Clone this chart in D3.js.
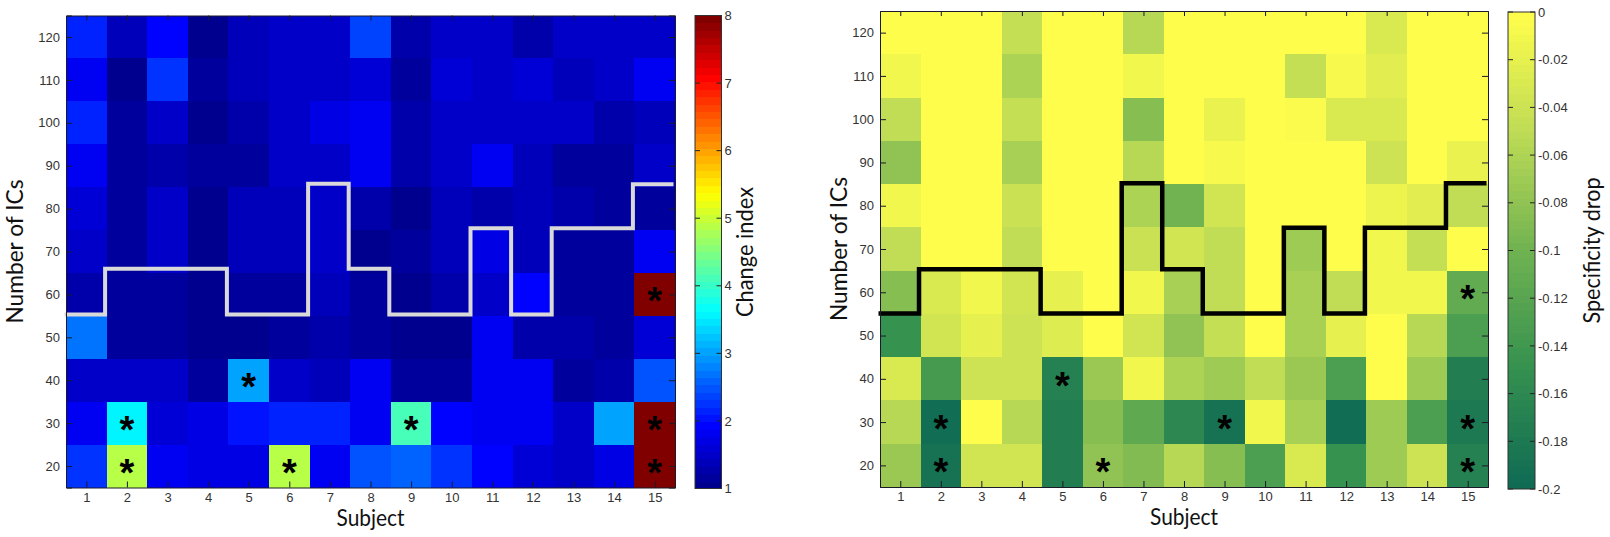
<!DOCTYPE html>
<html>
<head>
<meta charset="utf-8">
<script src="https://cdn.jsdelivr.net/npm/d3@7"></script>
<style>
  html, body { margin: 0; padding: 0; background: #fff; }
  svg { display: block; }
  .tick text { font-family: "Liberation Sans", Arial, sans-serif; font-size: 13px; fill: #333; }
  .title { font-family: Lato, "Open Sans", sans-serif; font-size: 23px; fill: #111; }
  .star { font-family: "Liberation Sans", Arial, sans-serif; font-size: 38px; font-weight: bold; fill: #000; text-anchor: middle; }
</style>
</head>
<body>
<div id="canvas"></div>
<script>
//Data
var subjects = d3.range(1, 16),
    ics = [120, 110, 100, 90, 80, 70, 60, 50, 40, 30, 20];

//rows run from 120 ICs down to 20 ICs, columns are subjects 1-15
var changeIndex = [
  [2.1, 1.4, 1.9, 1.1, 1.4, 1.45, 1.45, 2.35, 1.3, 1.45, 1.5, 1.3, 1.45, 1.45, 1.5],
  [1.85, 1.1, 2.3, 1.2, 1.4, 1.45, 1.45, 1.65, 1.15, 1.6, 1.45, 1.55, 1.35, 1.45, 1.85],
  [2.15, 1.15, 1.5, 1.05, 1.25, 1.45, 1.7, 1.85, 1.3, 1.5, 1.45, 1.5, 1.45, 1.3, 1.35],
  [1.8, 1.15, 1.3, 1.15, 1.2, 1.45, 1.5, 1.85, 1.3, 1.5, 1.85, 1.4, 1.15, 1.15, 1.5],
  [1.55, 1.15, 1.45, 1.05, 1.4, 1.4, 1.45, 1.3, 1.1, 1.4, 1.25, 1.4, 1.3, 1.2, 1.2],
  [1.45, 1.15, 1.5, 1.05, 1.35, 1.4, 1.45, 1.1, 1.15, 1.35, 1.75, 1.35, 1.15, 1.15, 1.85],
  [1.3, 1.15, 1.15, 1.05, 1.2, 1.2, 1.35, 1.15, 1.1, 1.3, 1.45, 1.9, 1.2, 1.15, 8],
  [2.7, 1.15, 1.15, 1.05, 1.1, 1.2, 1.3, 1.2, 1.1, 1.1, 1.85, 1.3, 1.25, 1.2, 1.65],
  [1.45, 1.45, 1.5, 1.15, 3.0, 1.5, 1.4, 1.85, 1.2, 1.15, 1.85, 1.85, 1.15, 1.25, 2.5],
  [1.8, 3.6, 1.65, 1.7, 2.0, 2.2, 2.2, 1.85, 4.1, 1.9, 1.85, 1.85, 1.45, 3.0, 8],
  [2.3, 4.9, 1.8, 1.75, 1.75, 4.9, 1.85, 2.5, 2.6, 2.3, 1.9, 1.6, 1.5, 1.75, 8]
];

var specificityDrop = [
  [0, 0, 0, -.045, 0, 0, -.055, 0, 0, 0, 0, 0, -.03, 0, 0],
  [-.01, 0, 0, -.06, 0, 0, -.012, 0, 0, 0, -.045, -.008, -.025, 0, 0],
  [-.05, 0, 0, -.045, 0, 0, -.085, 0, -.018, 0, -.005, -.03, -.03, 0, 0],
  [-.08, 0, 0, -.065, 0, 0, -.055, 0, -.008, 0, 0, 0, -.04, 0, -.018],
  [-.012, 0, 0, -.042, 0, 0, -.06, -.1, -.035, 0, 0, 0, -.015, -.022, -.05],
  [-.05, -.003, 0, -.05, 0, 0, -.042, -.035, -.05, 0, -.07, 0, -.012, -.045, 0],
  [-.085, -.03, -.01, -.035, -.02, -.003, -.012, -.065, -.05, 0, -.065, -.05, -.012, -.01, -.11],
  [-.15, -.035, -.02, -.04, -.028, 0, -.035, -.08, -.045, 0, -.065, -.02, 0, -.055, -.13],
  [-.03, -.135, -.04, -.04, -.17, -.075, -.012, -.06, -.07, -.05, -.075, -.13, 0, -.07, -.175],
  [-.055, -.195, 0, -.055, -.175, -.085, -.115, -.16, -.19, -.012, -.065, -.195, -.07, -.13, -.18],
  [-.075, -.19, -.035, -.035, -.175, -.08, -.09, -.055, -.085, -.13, -.03, -.15, -.07, -.04, -.17]
];

//threshold line, one level per subject
var leftThreshold = [55.3, 66, 66, 66, 55.3, 55.3, 85.8, 66, 55.3, 55.3, 75.4, 55.3, 75.4, 75.4, 85.7],
    rightThreshold = [55.1, 65.3, 65.3, 65.3, 55.1, 55.1, 85.2, 65.3, 55.1, 55.1, 74.9, 55.1, 74.9, 74.9, 85.2];

//significant cells: [subject, ICs]
var leftStars = [[2, 30], [2, 20], [5, 40], [6, 20], [9, 30], [15, 60], [15, 30], [15, 20]],
    rightStars = [[2, 30], [2, 20], [5, 40], [6, 20], [9, 30], [15, 60], [15, 30], [15, 20]];

var changeTicks = [1, 2, 3, 4, 5, 6, 7, 8],
    dropTicks = [0, -.02, -.04, -.06, -.08, -.1, -.12, -.14, -.16, -.18, -.2];

//64 level colormaps
var jet = d3.scaleLinear()
    .domain([0, .125, .375, .625, .875, 1])
    .range(['#00008f', '#0000ff', '#00ffff', '#ffff00', '#ff0000', '#800000']);
var summer = d3.scaleLinear()
    .domain([0, .25, .5, .75, 1])
    .range(['#0f6b53', '#35914f', '#70b251', '#bddb55', '#fffd4c']);

var jetColor = d3.scaleQuantize().domain([1, 8]).range(d3.quantize(jet, 64)),
    summerColor = d3.scaleQuantize().domain([-.2, 0]).range(d3.quantize(summer, 64));

var svg = d3.select('#canvas').append('svg')
    .attr('width', 1610)
    .attr('height', 537);

drawPanel({
  l: 66, r: 675, t: 15.5, b: 487.5,
  values: changeIndex, color: jetColor, threshold: leftThreshold, stars: leftStars,
  lineColor: '#d9d9d9', lineWidth: 4,
  yLabelX: 23, subjectY: 526,
  barL: 695, barR: 721.5, barT: 15.5, barB: 488.5,
  barDomain: [8, 1], barTicks: changeTicks, barFormat: d3.format('d'),
  barLabel: 'Change index', barLabelLen: 130, barLabelX: 753
});

drawPanel({
  l: 880, r: 1488, t: 11, b: 487,
  values: specificityDrop, color: summerColor, threshold: rightThreshold, stars: rightStars,
  lineColor: '#000', lineWidth: 4.5,
  yLabelX: 847, subjectY: 525,
  barL: 1508, barR: 1535, barT: 12, barB: 489,
  barDomain: [0, -.2], barTicks: dropTicks, barFormat: function(d){return String(d)},
  barLabel: 'Specificity drop', barLabelLen: 146, barLabelX: 1600
});

function drawPanel(p){
  var g = svg.append('g');

  var x = d3.scaleLinear().domain([.5, 15.5]).range([p.l, p.r]),
      y = d3.scaleLinear().domain([125, 15]).range([p.t, p.b]);

  //heatmap cells
  p.values.forEach(function(row, i){
    g.selectAll(null)
        .data(row)
        .enter()
        .append('rect')
        .attr('x', function(d, j){return x(subjects[j] - .5)})
        .attr('y', y(ics[i] + 5))
        .attr('width', x(1.5) - x(.5) + .4)
        .attr('height', y(10) - y(20) + .4)
        .style('shape-rendering', 'crispEdges')
        .style('fill', function(d){return p.color(d)});
  });

  //threshold line, edges of each subject's step
  var pts = [];
  p.threshold.forEach(function(d, i){
    pts.push([subjects[i] - .5, d]);
    pts.push([subjects[i] + .5, d]);
  });
  var line = d3.line()
      .x(function(d){return x(d[0]) - 1.5})
      .y(function(d){return y(d[1])});
  g.append('path')
      .datum(pts)
      .attr('d', line)
      .style('fill', 'none')
      .style('stroke', p.lineColor)
      .style('stroke-width', p.lineWidth)
      .style('stroke-linejoin', 'miter');

  //asterisks
  g.selectAll('.star')
      .data(p.stars)
      .enter()
      .append('text').attr('class', 'star')
      .attr('x', function(d){return x(d[0])})
      .attr('y', function(d){return y(d[1]) + 20})
      .text('*');

  //axes, ticks point inward on all four sides
  var bottom = g.append('g')
      .attr('transform', 'translate(0,' + p.b + ')')
      .call(d3.axisBottom(x).tickValues(subjects).tickSize(-6).tickPadding(5).tickFormat(d3.format('d')));
  var left = g.append('g')
      .attr('transform', 'translate(' + p.l + ',0)')
      .call(d3.axisLeft(y).tickValues(ics).tickSize(-6).tickPadding(6).tickFormat(d3.format('d')));
  var top = g.append('g')
      .attr('transform', 'translate(0,' + p.t + ')')
      .call(d3.axisTop(x).tickValues(subjects).tickSize(-5).tickFormat(''));
  var right = g.append('g')
      .attr('transform', 'translate(' + p.r + ',0)')
      .call(d3.axisRight(y).tickValues(ics).tickSize(-6).tickFormat(''));
  [bottom, left, top, right].forEach(function(a){
    a.selectAll('path,line').style('stroke', '#1a1a2a');
  });

  g.append('text').attr('class', 'title')
      .attr('x', (p.l + p.r) / 2)
      .attr('y', p.subjectY)
      .attr('text-anchor', 'middle')
      .attr('textLength', 68)
      .attr('lengthAdjust', 'spacingAndGlyphs')
      .text('Subject');
  g.append('text').attr('class', 'title')
      .attr('transform', 'translate(' + p.yLabelX + ',' + (p.t + p.b) / 2 + ') rotate(-90)')
      .attr('text-anchor', 'middle')
      .attr('textLength', 144)
      .attr('lengthAdjust', 'spacingAndGlyphs')
      .text('Number of ICs');

  //colorbar, one rect per colormap level
  var barY = d3.scaleLinear().domain(p.barDomain).range([p.barT, p.barB]),
      levels = p.color.range(),
      lo = d3.min(p.barDomain),
      hi = d3.max(p.barDomain),
      step = (hi - lo) / levels.length;

  g.selectAll('.level')
      .data(levels)
      .enter()
      .append('rect').attr('class', 'level')
      .attr('x', p.barL)
      .attr('width', p.barR - p.barL)
      .attr('y', function(d, i){return barY(lo + (i + 1) * step)})
      .attr('height', Math.abs(barY(lo) - barY(lo + step)) + .4)
      .style('shape-rendering', 'crispEdges')
      .style('fill', function(d){return d});

  var barAxis = g.append('g')
      .attr('transform', 'translate(' + p.barR + ',0)')
      .call(d3.axisRight(barY).tickValues(p.barTicks).tickSize(0).tickPadding(3).tickFormat(p.barFormat));
  barAxis.select('.domain').remove();

  g.selectAll('.barTickL')
      .data(p.barTicks)
      .enter()
      .append('line').attr('class', 'barTickL')
      .attr('x1', p.barL).attr('x2', p.barL + 5)
      .attr('y1', function(d){return barY(d)}).attr('y2', function(d){return barY(d)})
      .style('stroke', '#222');
  g.selectAll('.barTickR')
      .data(p.barTicks)
      .enter()
      .append('line').attr('class', 'barTickR')
      .attr('x1', p.barR - 5).attr('x2', p.barR)
      .attr('y1', function(d){return barY(d)}).attr('y2', function(d){return barY(d)})
      .style('stroke', '#222');

  g.append('rect')
      .attr('x', p.barL).attr('y', p.barT)
      .attr('width', p.barR - p.barL).attr('height', p.barB - p.barT)
      .style('fill', 'none')
      .style('stroke', '#333');

  g.append('text').attr('class', 'title')
      .attr('transform', 'translate(' + p.barLabelX + ',' + (p.barT + p.barB) / 2 + ') rotate(-90)')
      .attr('text-anchor', 'middle')
      .attr('textLength', p.barLabelLen)
      .attr('lengthAdjust', 'spacingAndGlyphs')
      .text(p.barLabel);
}
</script>
</body>
</html>
